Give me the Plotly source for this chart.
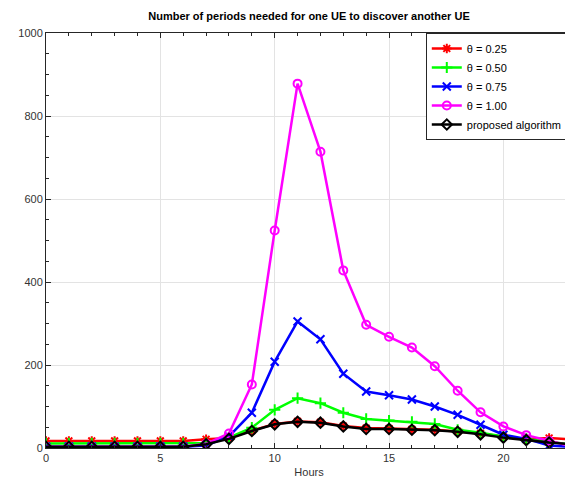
import plotly.graph_objects as go

hours = list(range(24))
theta_025 = [17, 17, 17, 17, 17, 17, 17, 21, 24, 42, 58, 64, 62, 53, 48, 47, 45, 44, 40, 35, 27, 21, 24, 21]
theta_050 = [11, 11, 11, 11, 11, 11, 11, 12, 25, 49, 92, 120, 108, 85, 70, 66, 63, 58, 44, 37, 28, 22, 15, 8]
theta_075 = [3, 3, 3, 3, 3, 3, 3, 6, 28, 85, 208, 305, 262, 179, 136, 127, 117, 100, 80, 56, 32, 22, 6, 3]
theta_100 = [3, 3, 3, 3, 3, 3, 3, 10, 35, 153, 524, 878, 714, 428, 297, 268, 242, 197, 138, 86, 52, 31, 17, 4]
proposed = [3, 3, 3, 3, 3, 3, 3, 9, 22, 41, 57, 63, 61, 52, 46, 46, 44, 43, 39, 33, 25, 19, 13, 9]

series = [
    ("θ = 0.25", theta_025, "#ff0000", "asterisk-open"),
    ("θ = 0.50", theta_050, "#00ff00", "cross-thin-open"),
    ("θ = 0.75", theta_075, "#0000ff", "x-thin-open"),
    ("θ = 1.00", theta_100, "#ff00ff", "circle-open"),
    ("proposed algorithm", proposed, "#000000", "diamond-open"),
]

fig = go.Figure()
for name, vals, color, sym in series:
    fig.add_trace(go.Scatter(
        x=hours, y=vals, name=name, mode="lines+markers",
        line=dict(color=color, width=2.5),
        marker=dict(symbol=sym, size=8, color=color, line=dict(color=color, width=2)),
    ))

axis_common = dict(
    showline=True, linecolor="#262626", linewidth=1, mirror="ticks",
    ticks="inside", ticklen=5, tickcolor="#262626",
    showgrid=True, gridcolor="#e3e3e3", gridwidth=1, zeroline=False,
    automargin=False,
    tickfont=dict(family="Liberation Sans, Arial, sans-serif", size=11, color="#333333"),
)

W, H = 565, 473
fig.update_layout(
    width=W, height=H,
    margin=dict(l=38, r=1, t=25, b=33, autoexpand=False),
    paper_bgcolor="white", plot_bgcolor="white",
    font=dict(family="Liberation Sans, Arial, sans-serif", size=11, color="#262626"),
    title=dict(text="<b>Number of periods needed for one UE to discover another UE</b>",
               x=0.5, xref="paper", xanchor="center", y=1 - 8 / H, yanchor="middle",
               font=dict(size=11, color="#000000")),
    xaxis=dict(range=[0, 23], dtick=5, tick0=0,
               minor=dict(dtick=1, ticks="inside", ticklen=3, tickcolor="#262626", showgrid=False),
               title=dict(text="Hours", standoff=5, font=dict(size=11, color="#333333")),
               **axis_common),
    yaxis=dict(range=[0, 1000], dtick=200,
               minor=dict(dtick=50, ticks="inside", ticklen=3, tickcolor="#262626", showgrid=False),
               **axis_common),
    legend=dict(x=0.992, xanchor="right", y=1, yanchor="top",
                bgcolor="white", bordercolor="#262626", borderwidth=1,
                font=dict(size=11, color="#000000"), tracegroupgap=0,
                itemwidth=30),
    showlegend=True,
)

fig.write_html("out.html")
